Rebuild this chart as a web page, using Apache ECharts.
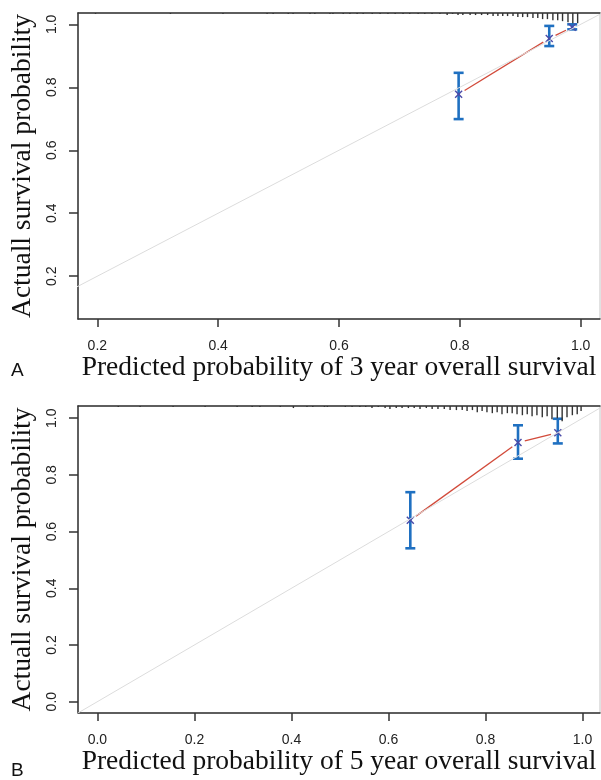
<!DOCTYPE html>
<html>
<head>
<meta charset="utf-8">
<script src="https://cdn.jsdelivr.net/npm/echarts@6/dist/echarts.min.js"></script>
<style>body{margin:0;background:#fff}</style>
</head>
<body>
<div id="chart" style="width:601px;height:780px;"></div>
<script>
// panel A: 3 year
var ticksA = [0.2, 0.4, 0.6, 0.8, 1.0];
var predA = [0.798, 0.948, 0.986];
var obsA  = [0.778, 0.955, 0.991];
var loA   = [0.699, 0.931, 0.984];
var hiA   = [0.846, 0.995, 1.000];
var rugXA = [0.197, 0.321, 0.408, 0.481, 0.491, 0.516, 0.524, 0.552, 0.560, 0.585, 0.590,
             0.607, 0.618, 0.630, 0.640, 0.655, 0.668, 0.681, 0.693, 0.706, 0.717, 0.731,
             0.742, 0.754, 0.767, 0.779, 0.788, 0.797, 0.805, 0.817, 0.826, 0.836, 0.846,
             0.855, 0.863, 0.871, 0.879, 0.888, 0.896, 0.904, 0.912, 0.921, 0.929, 0.937,
             0.945, 0.954, 0.962, 0.970, 0.979, 0.987, 0.995];
var rugNA = [1, 1, 1, 1, 1, 1, 1, 1, 1, 1, 1,
             1, 1, 1, 1, 1, 1, 1, 1, 1, 1, 1,
             1, 1, 1, 2, 1, 2, 2, 2, 2, 2, 2,
             3, 3, 3, 3, 3, 4, 4, 4, 5, 5, 6,
             6, 7, 7, 8, 9, 10, 10];

// panel B: 5 year
var ticksB = [0.0, 0.2, 0.4, 0.6, 0.8, 1.0];
var predB = [0.645, 0.867, 0.949];
var obsB  = [0.640, 0.914, 0.949];
var loB   = [0.541, 0.857, 0.911];
var hiB   = [0.739, 0.975, 0.998];
var rugXB = [0.043, 0.088, 0.156, 0.222, 0.288, 0.319, 0.335, 0.377, 0.404, 0.432, 0.444, 0.468, 0.474,
             0.511, 0.525, 0.541, 0.553, 0.566, 0.579, 0.593, 0.603, 0.616, 0.628, 0.641, 0.653,
             0.665, 0.678, 0.690, 0.702, 0.715, 0.727, 0.740, 0.752, 0.762, 0.773, 0.783, 0.793,
             0.803, 0.814, 0.824, 0.834, 0.845, 0.855, 0.865, 0.876, 0.886, 0.896, 0.906, 0.917,
             0.927, 0.937, 0.948, 0.958, 0.968, 0.979, 0.989, 0.997];
var rugNB = [1, 1, 1, 1, 1, 1, 1, 1, 2, 1, 1, 1, 1,
             1, 1, 1, 1, 2, 1, 2, 3, 2, 2, 2, 2,
             3, 2, 3, 3, 3, 4, 4, 4, 5, 4, 6, 5,
             6, 7, 6, 8, 7, 7, 8, 9, 8, 10, 9, 11,
             10, 13, 12, 15, 11, 9, 8, 5];

var diag = [[-0.1, -0.1], [1.1, 1.1]];

var sans = '"Liberation Sans", Arial, sans-serif';
var serif = '"Liberation Serif", "Times New Roman", serif';

function zip2(a, b) { return a.map(function (v, i) { return [v, b[i]]; }); }
function errData(p, o, l, h) { return p.map(function (v, i) { return [v, o[i], l[i], h[i]]; }); }
function segData(p, o) {
    var out = [];
    for (var i = 0; i < p.length - 1; i++) out.push([p[i], o[i], p[i + 1], o[i + 1]]);
    return out;
}

// error bar with caps plus an x mark
function renderErr(params, api) {
    var c = api.coord([api.value(0), api.value(1)]);
    var lo = api.coord([api.value(0), api.value(2)]);
    var hi = api.coord([api.value(0), api.value(3)]);
    var cw = 5, m = 3.5;
    var blue = { stroke: '#1f70c1', lineWidth: 2.6 };
    var mark = { stroke: '#4b4ba8', lineWidth: 1.4 };
    return {
        type: 'group',
        children: [
            { type: 'line', shape: { x1: lo[0], y1: lo[1], x2: hi[0], y2: hi[1] }, style: blue },
            { type: 'line', shape: { x1: hi[0] - cw, y1: hi[1], x2: hi[0] + cw, y2: hi[1] }, style: blue },
            { type: 'line', shape: { x1: lo[0] - cw, y1: lo[1], x2: lo[0] + cw, y2: lo[1] }, style: blue },
            { type: 'line', shape: { x1: c[0] - m, y1: c[1] - m, x2: c[0] + m, y2: c[1] + m }, style: mark },
            { type: 'line', shape: { x1: c[0] - m, y1: c[1] + m, x2: c[0] + m, y2: c[1] - m }, style: mark }
        ]
    };
}

// connecting line with gaps around the points (like R type="b")
function renderSeg(params, api) {
    var a = api.coord([api.value(0), api.value(1)]);
    var b = api.coord([api.value(2), api.value(3)]);
    var dx = b[0] - a[0], dy = b[1] - a[1];
    var len = Math.sqrt(dx * dx + dy * dy), g = 7;
    if (len <= 2 * g) return null;
    var ux = dx / len, uy = dy / len;
    return {
        type: 'line',
        shape: { x1: a[0] + ux * g, y1: a[1] + uy * g, x2: b[0] - ux * g, y2: b[1] - uy * g },
        style: { stroke: '#d24a3a', lineWidth: 1.3 }
    };
}

function xAxisOf(idx, min, max, ticks, title) {
    return {
        gridIndex: idx, type: 'value', min: min, max: max,
        axisLine: { show: true, onZero: false, lineStyle: { color: '#333', width: 1.5 } },
        axisTick: { show: true, length: 8, customValues: ticks, lineStyle: { color: '#333', width: 1.5 } },
        axisLabel: { customValues: ticks, margin: 20, fontSize: 14, color: '#222', fontFamily: sans,
            formatter: function (v) { return v.toFixed(1); } },
        splitLine: { show: false },
        name: title, nameLocation: 'middle', nameGap: 35,
        nameTextStyle: { fontFamily: serif, fontSize: 27.5, color: '#111' }
    };
}
// top edge of the frame (rug baseline)
function topAxisOf(idx, min, max) {
    return {
        gridIndex: idx, type: 'value', min: min, max: max, position: 'top',
        axisLine: { show: true, onZero: false, lineStyle: { color: '#333', width: 1.5 } },
        axisTick: { show: false }, axisLabel: { show: false }, splitLine: { show: false }
    };
}
function yAxisOf(idx, min, max, ticks) {
    return {
        gridIndex: idx, type: 'value', min: min, max: max,
        axisLine: { show: true, onZero: false, lineStyle: { color: '#333', width: 1.5 } },
        axisTick: { show: true, length: 9, customValues: ticks, lineStyle: { color: '#333', width: 1.5 } },
        axisLabel: { customValues: ticks, margin: 19, rotate: 90, fontSize: 14, color: '#222', fontFamily: sans,
            formatter: function (v) { return v.toFixed(1); } },
        splitLine: { show: false },
        name: 'Actuall survival probability', nameLocation: 'middle', nameGap: 40,
        nameTextStyle: { fontFamily: serif, fontSize: 27.5, color: '#111' }
    };
}
function rugAxisOf(idx) {
    return { gridIndex: idx, type: 'value', inverse: true, min: 0, max: 300, show: false };
}

var chart = echarts.init(document.getElementById('chart'), null, { renderer: 'canvas' });
chart.setOption({
    animation: false,
    backgroundColor: '#fff',
    grid: [
        { left: 78, top: 13, width: 522, height: 306, show: true, borderColor: '#c4c4c4', borderWidth: 1 },
        { left: 78, top: 406, width: 522, height: 307, show: true, borderColor: '#c4c4c4', borderWidth: 1 }
    ],
    xAxis: [
        xAxisOf(0, 0.168, 1.032, ticksA, 'Predicted probability of 3 year overall survival'),
        xAxisOf(1, -0.04, 1.036, ticksB, 'Predicted probability of 5 year overall survival'),
        topAxisOf(0, 0.168, 1.032),
        topAxisOf(1, -0.04, 1.036)
    ],
    yAxis: [
        yAxisOf(0, 0.064, 1.036, ticksA),
        rugAxisOf(0),
        yAxisOf(1, -0.04, 1.043, [0.0, 0.2, 0.4, 0.6, 0.8, 1.0]),
        rugAxisOf(1)
    ],
    graphic: [
        { type: 'text', left: 11, top: 361, style: { text: 'A', font: '19px ' + sans, fill: '#111' } },
        { type: 'text', left: 11, top: 761, style: { text: 'B', font: '19px ' + sans, fill: '#111' } }
    ],
    series: [
        { type: 'line', xAxisIndex: 0, yAxisIndex: 0, data: diag, showSymbol: false, silent: true,
          lineStyle: { color: '#dcdcdc', width: 1 } },
        { type: 'custom', xAxisIndex: 0, yAxisIndex: 0, data: segData(predA, obsA), renderItem: renderSeg, clip: true },
        { type: 'custom', xAxisIndex: 0, yAxisIndex: 0, data: errData(predA, obsA, loA, hiA), renderItem: renderErr },
        { type: 'bar', xAxisIndex: 0, yAxisIndex: 1, data: zip2(rugXA, rugNA), barWidth: 1.4,
          itemStyle: { color: '#333' }, silent: true },

        { type: 'line', xAxisIndex: 1, yAxisIndex: 2, data: diag, showSymbol: false, silent: true,
          lineStyle: { color: '#dcdcdc', width: 1 } },
        { type: 'custom', xAxisIndex: 1, yAxisIndex: 2, data: segData(predB, obsB), renderItem: renderSeg, clip: true },
        { type: 'custom', xAxisIndex: 1, yAxisIndex: 2, data: errData(predB, obsB, loB, hiB), renderItem: renderErr },
        { type: 'bar', xAxisIndex: 1, yAxisIndex: 3, data: zip2(rugXB, rugNB), barWidth: 1.4,
          itemStyle: { color: '#333' }, silent: true }
    ]
});
</script>
</body>
</html>
